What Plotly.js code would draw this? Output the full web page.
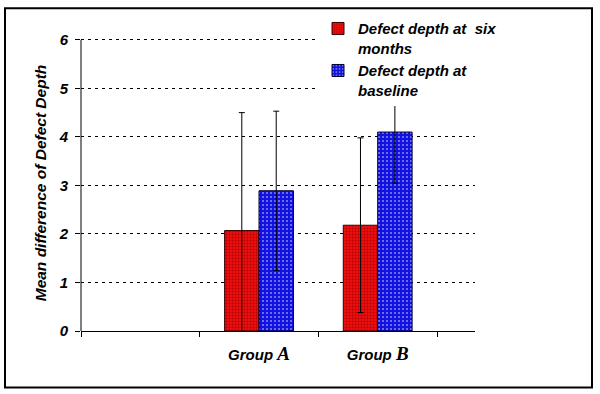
<!DOCTYPE html>
<html>
<head>
<meta charset="utf-8">
<script src="https://cdn.plot.ly/plotly-3.0.1.min.js"></script>
<style>html,body{margin:0;padding:0;background:#fff;}#chart{width:600px;height:394px;}</style>
</head>
<body>
<div id="chart"></div>
<script>
// ---- data ----
const categories = ["none", "Group A", "Group B"];
const tickLabels = ["", "Group <span style='font-family:\"Liberation Serif\",serif;font-size:19px'>A</span>", "Group <span style='font-family:\"Liberation Serif\",serif;font-size:19px'>B</span>"];
const sixMonths = [null, 2.07, 2.18];
const sixMonthsErr = [0, 2.43, 1.8];
const baseline = [null, 2.89, 4.10];
const baselineErr = [0, 1.64, 1.05];
const seriesNames = ["Defect depth at  six<br>months", "Defect depth at<br>baseline"];
const yTicks = [0, 1, 2, 3, 4, 5, 6];

// ---- layout helpers (pixels -> paper) ----
const W = 600, H = 394, L = 81, R = 125, T = 32, B = 63;
const pw = W - L - R, ph = H - T - B;
const px = x => (x - L) / pw;
const py = y => (H - B - y) / ph;

const fam = "Arial, 'Liberation Sans', sans-serif";
const bi = (size) => ({family: fam, size: size, color: "#000", weight: "bold", style: "italic"});

const traces = [
  {
    type: "bar", name: seriesNames[0], x: categories, y: sixMonths,
    marker: {color: "#ee1010", line: {color: "#3a0000", width: 1},
             pattern: {shape: ".", bgcolor: "#ee1010", fgcolor: "#b00000", size: 3, solidity: 0.3}},
    error_y: {type: "data", array: sixMonthsErr, visible: true, color: "#000", thickness: 1, width: 3}
  },
  {
    type: "bar", name: seriesNames[1], x: categories, y: baseline,
    marker: {color: "#1212e0", line: {color: "#000030", width: 1},
             pattern: {shape: ".", bgcolor: "#1212e0", fgcolor: "#8a8aff", size: 4, solidity: 0.2}},
    error_y: {type: "data", array: baselineErr, visible: true, color: "#000", thickness: 1, width: 3}
  }
];

const layout = {
  width: W, height: H,
  margin: {l: L, r: R, t: T, b: B, pad: 0},
  paper_bgcolor: "#fff", plot_bgcolor: "rgba(0,0,0,0)",
  barmode: "group", bargap: 0.42, bargroupgap: 0,
  font: bi(15),
  showlegend: true,
  legend: {x: px(318), y: py(9), xanchor: "left", yanchor: "top", bgcolor: "#fff",
           font: bi(15), valign: "top", tracegroupgap: 2, itemwidth: 30},
  xaxis: {
    type: "category", range: [-0.5, 2.82], tickvals: categories, ticktext: tickLabels,
    tickson: "boundaries", ticks: "outside", ticklen: 5, tickcolor: "#000", tickwidth: 1,
    showline: true, linecolor: "#000", linewidth: 1, showgrid: false, zeroline: false,
    tickfont: bi(15), ticklabelstandoff: 10, fixedrange: true
  },
  yaxis: {
    range: [0, 6.1], tickvals: yTicks, ticks: "outside", ticklen: 5, tickcolor: "#000",
    showline: false, zeroline: false,
    showgrid: true, gridcolor: "#000", gridwidth: 1, griddash: "3px,4px",
    tickfont: bi(15), ticklabelstandoff: 4,
    title: {text: "Mean difference of Defect Depth", standoff: 8, font: bi(15.5)}
  },
  shapes: [
    {type: "rect", xref: "paper", yref: "paper", x0: px(5), x1: px(592), y0: py(388), y1: py(5),
     line: {color: "#000", width: 2}, fillcolor: "rgba(0,0,0,0)", layer: "above"},
    {type: "line", xref: "paper", yref: "y", x0: 0, x1: 0, y0: 0, y1: 6,
     line: {color: "#000", width: 1}, layer: "above"}
  ]
};

Plotly.newPlot("chart", traces, layout, {displayModeBar: false, staticPlot: true});
</script>
</body>
</html>
